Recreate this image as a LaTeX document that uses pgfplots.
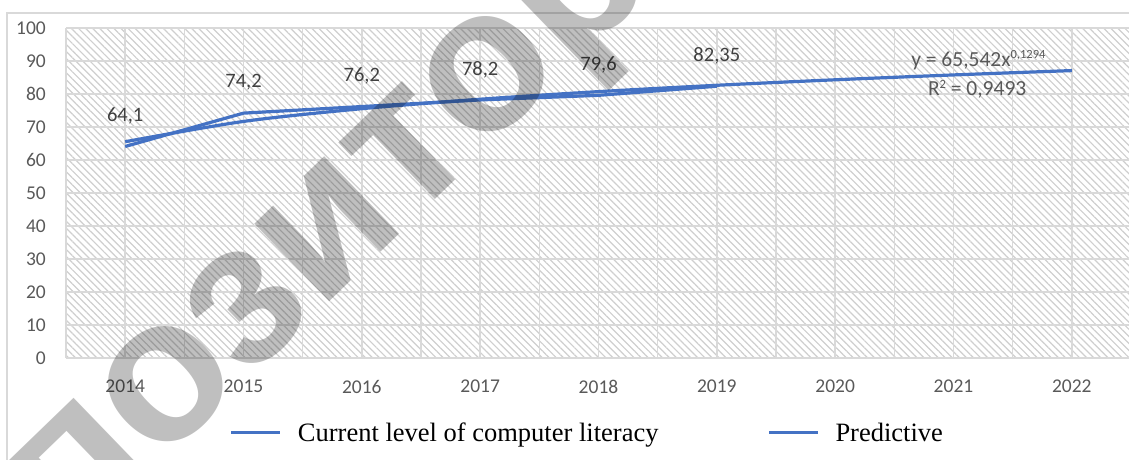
\documentclass[border=0pt]{standalone}
\usepackage{fontspec}
\setmainfont{Carlito}
\newfontfamily\legendfont{Liberation Serif}
\newfontfamily\wmfont{Liberation Sans}
\usepackage{pgfplots}
\pgfplotsset{compat=1.18}
\usetikzlibrary{patterns.meta}
\definecolor{lineblue}{HTML}{4472C4}
\definecolor{gridgray}{HTML}{D9D9D9}
\definecolor{hatchgray}{HTML}{CFCFCF}
\definecolor{ticktext}{HTML}{595959}
\definecolor{labeltext}{HTML}{404040}

\pgfplotstableread{
x y
0 64.1
1 74.2
2 76.2
3 78.2
4 79.6
5 82.35
}\actualdata

\pgfplotstableread{
x y
0 65.54
1 71.69
2 75.55
3 78.42
4 80.72
5 82.64
6 84.31
7 85.78
8 87.10
}\trenddata

\begin{document}
\begin{tikzpicture}[x=1pt,y=1pt]
\useasboundingbox (0,0) rectangle (1129,459);
\begin{scope}
\clip (0,0) rectangle (1129,459);
\draw[gridgray, line width=1.2pt] (7,-10) -- (7,446) -- (1140,446);
\begin{axis}[
  at={(66pt,101pt)}, anchor=south west,
  scale only axis, width=1065pt, height=330pt,
  xmin=-0.5, xmax=8.5, ymin=0, ymax=100,
  xtick={0,1,2,3,4,5,6,7,8},
  xticklabels={2014,2015,2016,2017,2018,2019,2020,2021,2022},
  minor xtick={-0.5,0.5,1.5,2.5,3.5,4.5,5.5,6.5,7.5,8.5},
  ytick={0,10,20,30,40,50,60,70,80,90,100},
  grid=both,
  major grid style={gridgray, line width=1.5pt},
  minor grid style={gridgray, line width=1.5pt},
  axis line style={draw=none},
  major tick length=0pt, minor tick length=0pt,
  /pgf/number format/assume math mode=true,
  tick label style={font=\fontsize{19.5}{22}\selectfont, text=ticktext},
  yticklabel style={inner sep=0pt, anchor=east, xshift=-20pt},
  xticklabel style={inner sep=0pt, anchor=north, yshift=-22pt},
  axis background/.style={fill=white, postaction={pattern={Lines[angle=-45,distance=5pt,line width=1.2pt]}, pattern color=hatchgray}},
  clip=false,
  legend columns=2,
  legend style={draw=none, fill=none, at={(0.4887,-0.227)}, anchor=center,
    font=\legendfont\fontsize{26.5}{30}\selectfont,
    nodes={inner sep=0pt},
    /tikz/every odd column/.append style={column sep=16pt},
    /tikz/every even column/.append style={column sep=109pt}},
  legend image code/.code={\draw[#1, line width=3pt] (0pt,0pt) -- (49pt,0pt);},
]
\addplot[lineblue, line width=3.2pt, sharp plot,
  nodes near coords={\pgfmathprintnumber[use comma,assume math mode=true]{\pgfplotspointmeta}},
  point meta=explicit,
  every node near coord/.append style={anchor=center, yshift=30.5pt, inner sep=0pt,
    font=\fontsize{20.5}{22}\selectfont, text=labeltext}]
  table[x=x, y=y, meta=y] {\actualdata};
\addlegendentry{Current level of computer literacy}
\addplot[lineblue, line width=3.2pt, smooth] table[x=x, y=y] {\trenddata};
\addlegendentry{Predictive}
\node[anchor=base, inner sep=0pt, text=ticktext, font=\fontsize{21.5}{22}\selectfont]
  at (axis cs:7.21,88.2) {y = 65,542x\raisebox{8.5pt}{\fontsize{12.5}{13}\selectfont 0,1294}};
\node[anchor=base, inner sep=0pt, text=ticktext, font=\fontsize{21.5}{22}\selectfont]
  at (axis cs:7.20,79.4) {R\raisebox{7.5pt}{\fontsize{12.5}{13}\selectfont 2} = 0,9493};
\end{axis}
\node[rotate=44, anchor=base west, inner sep=0pt, text=black, opacity=0.25,
  font=\wmfont\bfseries\fontsize{204}{204}\selectfont] at (-106,-263) {Репозиторий};
\end{scope}
\end{tikzpicture}
\end{document}
